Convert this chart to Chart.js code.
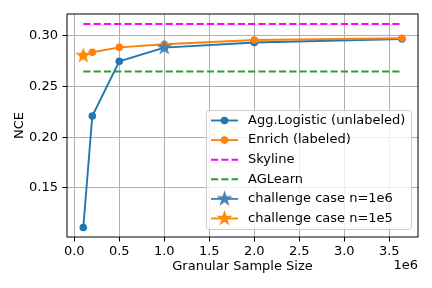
<!DOCTYPE html>
<html>
<head>
<meta charset="utf-8">
<script src="https://cdn.jsdelivr.net/npm/chart.js@4/dist/chart.umd.min.js"></script>
<style>
  html, body { margin: 0; padding: 0; background: #fff; }
  canvas { display: block; }
</style>
</head>
<body>
<canvas id="nceChart" width="432" height="288"></canvas>
<script>
// Data
const sampleSizes = [100000, 200000, 500000, 1000000, 2000000, 3640000];
const aggLogistic = [0.111, 0.221, 0.275, 0.2885, 0.2935, 0.297];
const enrich = [0.2805, 0.284, 0.2888, 0.2918, 0.296, 0.2978];
const baselineRange = [100000, 3640000];
const skyline = 0.3118;
const agLearn = 0.265;
const challenge1e6 = { x: 1000000, y: 0.2885 };
const challenge1e5 = { x: 100000, y: 0.2805 };
const xTicks = [0, 500000, 1000000, 1500000, 2000000, 2500000, 3000000, 3500000];
const yTicks = [0.15, 0.20, 0.25, 0.30];

const FONT = '"DejaVu Sans", "Liberation Sans", sans-serif';
Chart.defaults.font.family = FONT;
Chart.defaults.font.size = 13;
Chart.defaults.color = '#000';

// filled five-point star used as a point style
function starImage(color, r) {
    const c = document.createElement('canvas');
    const s = Math.ceil(r * 2 + 2);
    c.width = s;
    c.height = s;
    const g = c.getContext('2d');
    g.translate(s / 2, s / 2);
    g.beginPath();
    for (let i = 0; i < 10; i++) {
        const rad = i % 2 ? r * 0.382 : r;
        const a = -Math.PI / 2 + i * Math.PI / 5;
        g.lineTo(rad * Math.cos(a), rad * Math.sin(a));
    }
    g.closePath();
    g.fillStyle = color;
    g.fill();
    return c;
}

const blueStar = starImage('#4682b4', 8.5);
const orangeStar = starImage('#ff8c00', 8.5);

const frameAndLegend = {
    id: 'frameAndLegend',
    afterDraw(chart) {
        const { ctx, chartArea: a } = chart;
        ctx.save();
        // axes box
        ctx.strokeStyle = '#000';
        ctx.lineWidth = 1;
        ctx.strokeRect(a.left, a.top, a.right - a.left, a.bottom - a.top);

        // offset text of the x axis
        ctx.fillStyle = '#000';
        ctx.font = '13px ' + FONT;
        ctx.textAlign = 'right';
        ctx.textBaseline = 'middle';
        ctx.fillText('1e6', a.right, 266);

        // legend box
        const bx = 206.5, by = 110.5, bw = 205, bh = 119, r = 3;
        ctx.beginPath();
        ctx.moveTo(bx + r, by);
        ctx.lineTo(bx + bw - r, by);
        ctx.quadraticCurveTo(bx + bw, by, bx + bw, by + r);
        ctx.lineTo(bx + bw, by + bh - r);
        ctx.quadraticCurveTo(bx + bw, by + bh, bx + bw - r, by + bh);
        ctx.lineTo(bx + r, by + bh);
        ctx.quadraticCurveTo(bx, by + bh, bx, by + bh - r);
        ctx.lineTo(bx, by + r);
        ctx.quadraticCurveTo(bx, by, bx + r, by);
        ctx.closePath();
        ctx.fillStyle = 'rgba(255,255,255,0.8)';
        ctx.fill();
        ctx.strokeStyle = '#cccccc';
        ctx.lineWidth = 1;
        ctx.stroke();

        chart.data.datasets.forEach((ds, i) => {
            const y = 120.5 + i * 19.6;
            ctx.beginPath();
            ctx.setLineDash(ds.borderDash || []);
            ctx.strokeStyle = ds.borderColor;
            ctx.lineWidth = ds.borderWidth;
            ctx.moveTo(211, y);
            ctx.lineTo(238, y);
            ctx.stroke();
            ctx.setLineDash([]);
            if (ds.pointStyle instanceof HTMLCanvasElement) {
                const img = ds.pointStyle;
                ctx.drawImage(img, 224.5 - img.width / 2, y - img.height / 2);
            } else if (ds.pointRadius > 0) {
                ctx.beginPath();
                ctx.arc(224.5, y, ds.pointRadius, 0, Math.PI * 2);
                ctx.fillStyle = ds.backgroundColor;
                ctx.fill();
            }
            ctx.fillStyle = '#000';
            ctx.textAlign = 'left';
            ctx.textBaseline = 'middle';
            ctx.fillText(ds.label, 248, y);
        });
        ctx.restore();
    }
};

const toPoints = (xs, ys) => xs.map((x, i) => ({ x: x, y: ys[i] }));

const datasets = [
    {
        label: 'Agg.Logistic (unlabeled)',
        data: toPoints(sampleSizes, aggLogistic),
        borderColor: '#1f77b4',
        backgroundColor: '#1f77b4',
        borderWidth: 1.9,
        pointRadius: 3.8,
        pointBorderWidth: 0,
        order: 6
    },
    {
        label: 'Enrich (labeled)',
        data: toPoints(sampleSizes, enrich),
        borderColor: '#ff7f0e',
        backgroundColor: '#ff7f0e',
        borderWidth: 1.9,
        pointRadius: 3.8,
        pointBorderWidth: 0,
        order: 5
    },
    {
        label: 'Skyline',
        data: toPoints(baselineRange, [skyline, skyline]),
        borderColor: '#ff00ff',
        backgroundColor: '#ff00ff',
        borderWidth: 1.9,
        borderDash: [7.2, 3.1],
        pointRadius: 0,
        order: 4
    },
    {
        label: 'AGLearn',
        data: toPoints(baselineRange, [agLearn, agLearn]),
        borderColor: '#2ca02c',
        backgroundColor: '#2ca02c',
        borderWidth: 1.9,
        borderDash: [7.2, 3.1],
        pointRadius: 0,
        order: 3
    },
    {
        label: 'challenge case n=1e6',
        data: [challenge1e6],
        borderColor: '#4682b4',
        backgroundColor: '#4682b4',
        borderWidth: 1.9,
        pointStyle: blueStar,
        pointRadius: 8,
        order: 2
    },
    {
        label: 'challenge case n=1e5',
        data: [challenge1e5],
        borderColor: '#ff8c00',
        backgroundColor: '#ff8c00',
        borderWidth: 1.9,
        pointStyle: orangeStar,
        pointRadius: 8,
        order: 1
    }
];

new Chart(document.getElementById('nceChart').getContext('2d'), {
    type: 'line',
    data: { datasets: datasets },
    options: {
        responsive: false,
        animation: false,
        layout: { padding: { left: 0, right: 14, top: 14, bottom: 0 } },
        plugins: {
            legend: { display: false },
            tooltip: { enabled: false }
        },
        scales: {
            x: {
                type: 'linear',
                min: -81000,
                max: 3819000,
                afterBuildTicks: s => { s.ticks = xTicks.map(v => ({ value: v })); },
                afterFit: s => { s.height = 51; },
                ticks: {
                    padding: 2,
                    maxRotation: 0,
                    callback: v => (v / 1e6).toFixed(1)
                },
                grid: { color: '#b0b0b0', lineWidth: 1, tickColor: '#000', tickLength: 4.5 },
                border: { display: false },
                title: {
                    display: true,
                    text: 'Granular Sample Size',
                    padding: { top: 0, bottom: 13.7 }
                }
            },
            y: {
                min: 0.1016,
                max: 0.3217,
                afterBuildTicks: s => { s.ticks = yTicks.map(v => ({ value: v })); },
                afterFit: s => { s.width = 67; },
                ticks: {
                    padding: 4.5,
                    callback: v => v.toFixed(2)
                },
                grid: { color: '#b0b0b0', lineWidth: 1, tickColor: '#000', tickLength: 4.5 },
                border: { display: false },
                title: {
                    display: true,
                    text: 'NCE',
                    padding: { top: 12.2, bottom: 0 }
                }
            }
        }
    },
    plugins: [frameAndLegend]
});
</script>
</body>
</html>
